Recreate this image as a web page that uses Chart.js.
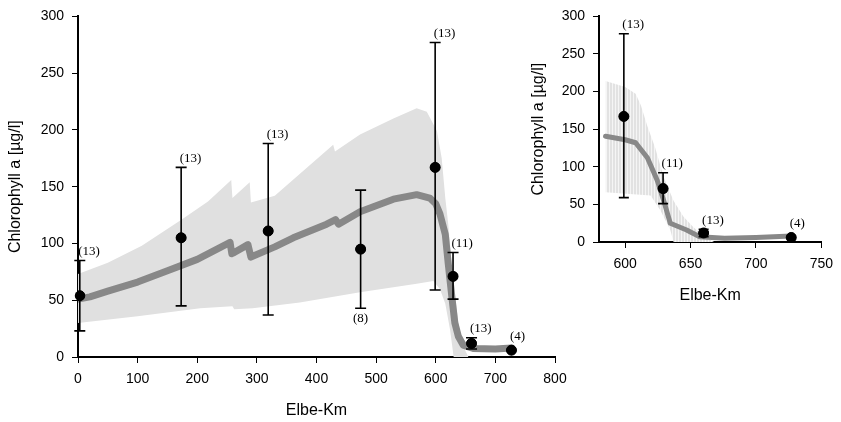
<html>
<head>
	<title>Chlorophyll a Elbe</title>
	<style>
		html, body {
			margin: 0;
			padding: 0;
			background: #fff;
		}
		#chartLeft { position: absolute; left: 0; top: 0; }
		#chartRight { position: absolute; left: 520px; top: 0; }
	</style>
</head>
<body>

	<canvas id="chartLeft" width="580" height="422"></canvas>
	<canvas id="chartRight" width="321" height="310"></canvas>

	<script src="https://cdn.jsdelivr.net/npm/chart.js@4.4.1/dist/chart.umd.min.js"></script>
	<script>
		// observations (mean, min, max, number of samples)
		var obsKm    = [3, 173, 319, 474, 599, 629, 660, 727];
		var obsMean  = [54, 105, 111, 95, 167, 71, 12, 6];
		var obsLow   = [23, 45, 37, 43, 59, 51, 7, null];
		var obsHigh  = [85, 167, 188, 147, 277, 92, 17, null];
		var obsN     = ['(13)', '(13)', '(13)', '(8)', '(13)', '(11)', '(13)', '(4)'];
		var obsLabel = ['above', 'above', 'above', 'below', 'above', 'above', 'above', 'above'];

		// model, whole river
		var modelKm  = [0, 20, 50, 100, 150, 200, 255, 258, 262, 285, 290, 330, 361, 417, 432, 437, 473, 529, 568, 590, 600, 607, 616, 621, 627, 632, 638, 646, 663, 700, 727];
		var modelChl = [51, 53, 58, 66, 76, 86, 101, 91, 92, 99, 88, 97, 105, 117, 121, 117, 128, 139, 143, 140, 135, 126, 108, 82, 53, 30, 18, 10.5, 7.5, 7, 8];
		var bandKmUp = [0, 50, 107, 174, 218, 257, 259, 288, 290, 330, 428, 431, 473, 529, 568, 585, 602, 610, 616, 621, 627, 632, 638, 645, 650, 655];
		var bandUp   = [73, 83, 98, 121, 137, 156, 140, 154, 136, 142, 187, 181, 196, 210, 219, 216, 199, 175, 140, 117, 80, 55, 30, 12, 5, 0];
		var bandKmLo = [0, 100, 205, 259, 262, 293, 372, 473, 568, 596, 607, 616, 624, 630, 655];
		var bandLo   = [30, 36, 43, 44.6, 42, 43, 48, 57, 64.5, 67, 60, 47, 24, 0, 0];

		// model, lower reach
		var zoomKm       = [585, 600, 608, 617, 624.5, 629.5, 634.5, 647, 657, 676, 700, 727];
		var zoomChl      = [140.6, 136, 132, 112, 82, 55, 25, 16, 7, 5, 6, 8];
		var zoomBandKmUp = [585, 600, 608, 612, 617, 623, 629.5, 637, 644.5, 652, 660, 668];
		var zoomBandUp   = [214, 206, 197, 182, 154, 125, 86, 55, 34, 20, 8, 0];
		var zoomBandKmLo = [585, 619.5, 627, 634.5, 637, 668];
		var zoomBandLo   = [66, 62, 42, 16, 0, 0];

		var xTicksLeft  = [0, 100, 200, 300, 400, 500, 600, 700, 800];
		var xTicksRight = [600, 650, 700, 750];
		var yTicks      = [0, 50, 100, 150, 200, 250, 300];

		var pts = function (xs, ys) {
			return xs.map(function (x, i) { return {x: x, y: ys[i]}; });
		};

		var stripes = function () {
			var c = document.createElement('canvas');
			c.width = 3; c.height = 1;
			var g = c.getContext('2d');
			g.fillStyle = '#e2e2e2'; g.fillRect(0, 0, 3, 1);
			g.fillStyle = '#f5f5f5'; g.fillRect(2, 0, 1, 1);
			return g.createPattern(c, 'repeat');
		};

		var errorBars = {
			id: 'errorBars',
			afterDatasetsDraw: function (chart, args, o) {
				var ctx = chart.ctx, x = chart.scales.x, y = chart.scales.y;
				ctx.save();
				ctx.strokeStyle = '#000';
				ctx.fillStyle = '#000';
				ctx.lineWidth = 1.6;
				ctx.font = '13px "Liberation Serif", "Times New Roman", serif';
				ctx.textBaseline = 'middle';
				o.km.forEach(function (k, i) {
					var px = x.getPixelForValue(k);
					var top, bottom;
					if (o.low[i] != null) {
						bottom = y.getPixelForValue(o.low[i]);
						top = y.getPixelForValue(o.high[i]);
						ctx.beginPath();
						ctx.moveTo(px, bottom); ctx.lineTo(px, top);
						ctx.moveTo(px - o.cap, top); ctx.lineTo(px + o.cap, top);
						ctx.moveTo(px - o.cap, bottom); ctx.lineTo(px + o.cap, bottom);
						ctx.stroke();
					} else {
						top = y.getPixelForValue(o.mean[i]) - 5;
						bottom = y.getPixelForValue(o.mean[i]) + 5;
					}
					if (o.pos[i] == 'below') {
						ctx.textAlign = 'center';
						ctx.fillText(o.n[i], px, bottom + 10);
					} else {
						ctx.textAlign = 'left';
						ctx.fillText(o.n[i], px - 1.5, top - 9);
					}
				});
				// points on top of the bars
				o.km.forEach(function (k, i) {
					ctx.beginPath();
					ctx.arc(x.getPixelForValue(k), y.getPixelForValue(o.mean[i]), 5, 0, Math.PI * 2);
					ctx.fill();
				});
				ctx.restore();
			}
		};

		var tickFont = {family: '"Liberation Sans", Arial, sans-serif', size: 14};
		var titleFont = {family: '"Liberation Sans", Arial, sans-serif', size: 16};

		var makeChart = function (id, cfg) {
			var ctx = document.getElementById(id).getContext('2d');
			return new Chart(ctx, {
				type: 'line',
				data: {
					datasets: [
						{data: cfg.up, order: 3, borderWidth: 0, pointRadius: 0, fill: '+1', backgroundColor: cfg.bandColor, borderColor: 'rgba(0,0,0,0)'},
						{data: cfg.lo, order: 3, borderWidth: 0, pointRadius: 0, fill: false, borderColor: 'rgba(0,0,0,0)'},
						{data: cfg.model, order: 2, borderColor: '#888888', borderWidth: cfg.lineWidth, pointRadius: 0, fill: false,
						 borderJoinStyle: 'round', borderCapStyle: 'round'},
						{data: cfg.obs, order: 1, showLine: false, pointRadius: 5, pointHoverRadius: 5,
						 backgroundColor: '#000', borderColor: '#000'}
					]
				},
				options: {
					responsive: false,
					animation: false,
					layout: {padding: cfg.padding},
					plugins: {
						legend: {display: false},
						tooltip: {enabled: false},
						errorBars: cfg.bars
					},
					scales: {
						x: {
							type: 'linear', min: cfg.xMin, max: cfg.xMax,
							afterBuildTicks: function (s) { s.ticks = cfg.xTicks.map(function (v) { return {value: v}; }); },
							afterFit: function (s) { s.height = cfg.xHeight; },
							grid: {drawOnChartArea: false, drawTicks: true, tickLength: 6, color: '#000'},
							border: {display: true, color: '#000', width: 2},
							ticks: {font: tickFont, color: '#000', padding: 8, maxRotation: 0},
							title: {display: true, text: 'Elbe-Km', font: titleFont, color: '#000', padding: {top: 0, bottom: cfg.xTitlePad}}
						},
						y: {
							min: 0, max: 300,
							afterBuildTicks: function (s) { s.ticks = yTicks.map(function (v) { return {value: v}; }); },
							afterFit: function (s) { s.width = cfg.yWidth; },
							grid: {drawOnChartArea: false, drawTicks: true, tickLength: 6, color: '#000'},
							border: {display: true, color: '#000', width: 2},
							ticks: {font: tickFont, color: '#000', padding: 8},
							title: {display: true, text: 'Chlorophyll a [µg/l]', font: titleFont, color: '#000', padding: {top: cfg.yTitlePad, bottom: 0}}
						}
					}
				},
				plugins: [errorBars]
			});
		};

		makeChart('chartLeft', {
			up: pts(bandKmUp, bandUp), lo: pts(bandKmLo, bandLo), model: pts(modelKm, modelChl),
			obs: pts(obsKm, obsMean), bandColor: '#e0e0e0', lineWidth: 7,
			xMin: 0, xMax: 800, xTicks: xTicksLeft, xHeight: 65, xTitlePad: 2, yWidth: 78, yTitlePad: 6,
			padding: {left: 0, right: 25, top: 14, bottom: 0},
			bars: {km: obsKm, mean: obsMean, low: obsLow, high: obsHigh, n: obsN, pos: obsLabel, cap: 5.5}
		});

		makeChart('chartRight', {
			up: pts(zoomBandKmUp, zoomBandUp), lo: pts(zoomBandKmLo, zoomBandLo), model: pts(zoomKm, zoomChl),
			obs: pts(obsKm.slice(4), obsMean.slice(4)), bandColor: stripes(), lineWidth: 5,
			xMin: 580, xMax: 750, xTicks: xTicksRight, xHeight: 68, xTitlePad: 5, yWidth: 79, yTitlePad: 9,
			padding: {left: 0, right: 15, top: 13, bottom: 0},
			bars: {km: obsKm.slice(4), mean: obsMean.slice(4), low: obsLow.slice(4), high: obsHigh.slice(4),
			       n: obsN.slice(4), pos: obsLabel.slice(4), cap: 5}
		});
	</script>
</body>
</html>
